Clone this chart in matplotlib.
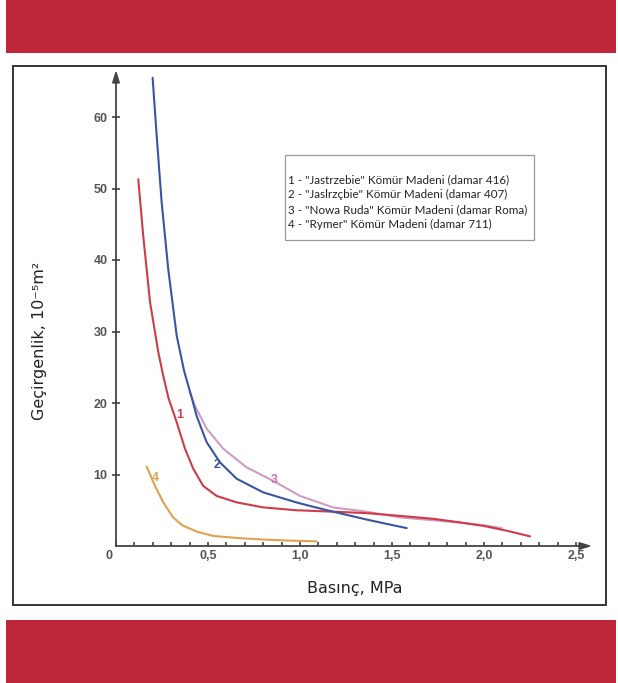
import matplotlib
matplotlib.use("Agg")
import matplotlib.pyplot as plt
from matplotlib.patches import Rectangle
from matplotlib.transforms import ScaledTranslation
from matplotlib.ticker import MultipleLocator

# curve 1 - Jastrzebie (damar 416)
x1 = [0.121, 0.148, 0.185, 0.23, 0.255, 0.284, 0.33, 0.375, 0.42, 0.474, 0.547, 0.656,
      0.80, 0.98, 1.18, 1.362, 1.55, 1.725, 1.87, 2.0, 2.13, 2.25]
y1 = [51.3, 43.4, 34.1, 27.1, 24.0, 20.8, 17.3, 13.6, 10.8, 8.4, 7.0, 6.1,
      5.4, 5.0, 4.8, 4.6, 4.2, 3.8, 3.3, 2.8, 2.1, 1.35]

# curve 2 - Jaslrzçbie (damar 407)
x2 = [0.199, 0.221, 0.248, 0.284, 0.33, 0.37, 0.411, 0.438, 0.493, 0.565, 0.656, 0.80,
      0.98, 1.054, 1.18, 1.362, 1.47, 1.58]
y2 = [65.5, 57.4, 48.1, 38.7, 29.4, 24.5, 20.8, 18.2, 14.5, 11.7, 9.4, 7.5,
      6.1, 5.6, 4.8, 3.7, 3.1, 2.5]

# curve 3 - Nowa Ruda (damar Roma)
x3 = [0.40, 0.429, 0.493, 0.583, 0.71, 0.855, 1.0, 1.18, 1.362, 1.543, 1.815, 2.0, 2.096]
y3 = [21.6, 19.6, 16.4, 13.6, 11.0, 9.1, 7.0, 5.4, 4.8, 4.0, 3.4, 2.9, 2.5]

# curve 4 - Rymer (damar 711)
x4 = [0.167, 0.19, 0.212, 0.257, 0.31, 0.36, 0.44, 0.53, 0.67, 0.80, 0.95, 1.09]
y4 = [11.1, 9.7, 8.4, 6.1, 4.0, 2.9, 2.0, 1.4, 1.1, 0.9, 0.75, 0.65]

curve_labels = ["1", "2", "3", "4"]
label_x = [0.344, 0.55, 0.86, 0.212]
label_y = [18.3, 11.3, 9.3, 9.5]

legend_lines = [
    '1 - "Jastrzebie" Kömür Madeni (damar 416)',
    '2 - "Jaslrzçbie" Kömür Madeni (damar 407)',
    '3 - "Nowa Ruda" Kömür Madeni (damar Roma)',
    '4 - "Rymer" Kömür Madeni (damar 711)',
]

xtick_vals = [0, 0.5, 1.0, 1.5, 2.0, 2.5]
xtick_text = ["0", "0,5", "1,0", "1,5", "2,0", "2,5"]
ytick_vals = [10, 20, 30, 40, 50, 60]

colors = ["#cf3b4b", "#3a55a2", "#cf9cc3", "#e0a24e"]
label_colors = ["#cf3b4b", "#3a55a2", "#c474ae", "#e0a24e"]
red_band = "#bf263a"

W, H = 618, 683
fig = plt.figure(figsize=(W / 100, H / 100), dpi=100)
fig.patch.set_facecolor("white")


def px_box(x0, y0, x1_, y1_):
    """pixel box (top-left origin) -> figure fraction rect"""
    return (x0 / W, 1 - y1_ / H, (x1_ - x0) / W, (y1_ - y0) / H)


# red bands and the outer frame
for box in [(6, 0, 616, 53), (6, 620, 616, 683)]:
    l, b, w, h = px_box(*box)
    fig.patches.append(Rectangle((l, b), w, h, transform=fig.transFigure,
                                 facecolor=red_band, edgecolor="none", zorder=0))
l, b, w, h = px_box(13, 66, 606, 605)
fig.patches.append(Rectangle((l, b), w, h, transform=fig.transFigure,
                             facecolor="none", edgecolor="#333333", lw=1.4, zorder=1))

# axes area: origin at (116, 546) px
ax = fig.add_axes(px_box(116, 70, 592, 546))
ax.set_xlim(0, (592 - 116) / 184)
ax.set_ylim(0, (546 - 70) / 7.15)
ax.patch.set_alpha(0)
for s in ax.spines.values():
    s.set_visible(False)

arrow = dict(arrowstyle="-|>,head_length=0.7,head_width=0.22", color="#444444", lw=1.3,
             shrinkA=0, shrinkB=0)
ax.annotate("", xy=(0, 1), xytext=(0, 0), xycoords="axes fraction", arrowprops=arrow)
ax.annotate("", xy=(1, 0), xytext=(0, 0), xycoords="axes fraction", arrowprops=arrow)

z_order = [4, 5, 3, 4]
for xs, ys, c, z in zip([x1, x2, x3, x4], [y1, y2, y3, y4], colors, z_order):
    ax.plot(xs, ys, color=c, lw=1.5, solid_capstyle="round", solid_joinstyle="round", zorder=z)

for t, lx, ly, c in zip(curve_labels, label_x, label_y, label_colors):
    ax.text(lx, ly, t, color=c, fontsize=9, fontweight="bold", ha="center", va="center",
            family="Liberation Sans", zorder=6)

ax.set_xticks(xtick_vals)
ax.set_xticklabels(xtick_text)
ax.xaxis.set_minor_locator(MultipleLocator(0.1))
ax.tick_params(axis="x", which="both", direction="in", length=3.2, width=1.2,
               color="#444444", pad=3)
ax.set_yticks(ytick_vals)
ax.tick_params(axis="y", direction="inout", length=6, width=1.2, color="#444444", pad=3)
for lbl in ax.get_xticklabels() + ax.get_yticklabels():
    lbl.set_family("Liberation Sans")
    lbl.set_fontweight("bold")
    lbl.set_fontsize(9)
    lbl.set_color("#555555")
zero = ax.get_xticklabels()[0]
zero.set_transform(zero.get_transform() + ScaledTranslation(-5 / 72, 0, fig.dpi_scale_trans))

# axis titles
fig.text(355 / W, 1 - 588 / H, "Basınç, MPa", ha="center", va="center", fontsize=11.5,
         color="#222222", family="DejaVu Sans")
fig.text(40 / W, 1 - 341 / H, "Geçirgenlik, 10\u207b\u2075m\u00b2", ha="center", va="center",
         rotation=90, fontsize=11.5, color="#222222", family="DejaVu Sans")

# legend box with plain text lines
l, b, w, h = px_box(285, 155, 534, 240)
fig.patches.append(Rectangle((l, b), w, h, transform=fig.transFigure,
                             facecolor="white", edgecolor="#999999", lw=0.9, zorder=2))
for i, line in enumerate(legend_lines):
    fig.text(288 / W, 1 - (180 + i * 14.7) / H, line, ha="left", va="center", fontsize=8.4,
             color="#222222", family="Lato", zorder=3)

fig.savefig("out.png", dpi=100)
